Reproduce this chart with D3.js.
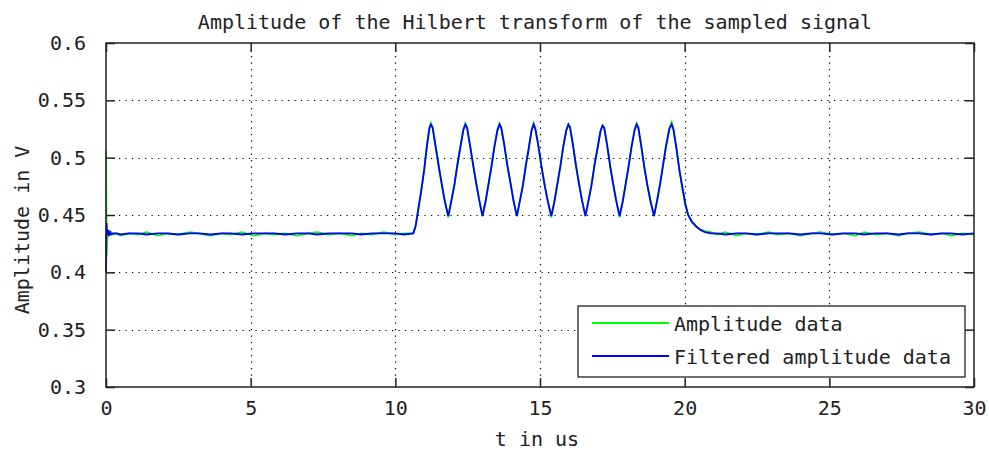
<!DOCTYPE html>
<html>
<head>
<meta charset="utf-8">
<script src="https://cdn.jsdelivr.net/npm/d3@7"></script>
<style>
  body { margin: 0; background: #fff; }
  text { font-family: "DejaVu Sans Mono", monospace; fill: #222; }
</style>
</head>
<body>
<div id="chart"></div>
<script>
var titleText = "Amplitude of the Hilbert transform of the sampled signal"
var xLabel = "t in us"
var yLabel = "Amplitude in V"
var seriesNames = ["Amplitude data", "Filtered amplitude data"]
var seriesColors = ["#00ff00", "#0000ff"]

var xTicks = [0, 5, 10, 15, 20, 25, 30]
var yTicks = [0.3, 0.35, 0.4, 0.45, 0.5, 0.55, 0.6]
var yTickLabels = ["0.3", "0.35", "0.4", "0.45", "0.5", "0.55", "0.6"]

/* time axis shared by both series (us) */
var timeUs = [
  0, 0.02, 0.04, 0.07, 0.1, 0.14, 0.18, 0.25, 0.35, 0.5, 0.8, 1.1, 1.4, 1.8, 2.1, 2.5, 2.9, 3.2, 3.6, 4.0,
  4.3, 4.7, 5.1, 5.5, 5.8, 6.2, 6.6, 7.0, 7.3, 7.7, 8.1, 8.5, 8.8, 9.2, 9.6, 10.0, 10.3, 10.62,
  10.7, 10.8, 10.9, 11.0, 11.1, 11.18, 11.23, 11.29, 11.39, 11.51, 11.61, 11.71, 11.83,
  11.94, 12.04, 12.14, 12.24, 12.35, 12.42, 12.48, 12.58, 12.7, 12.8, 12.9, 13.01,
  13.12, 13.22, 13.32, 13.42, 13.53, 13.6, 13.66, 13.76, 13.88, 13.98, 14.08, 14.2,
  14.31, 14.41, 14.51, 14.61, 14.71, 14.78, 14.84, 14.94, 15.06, 15.16, 15.27, 15.39,
  15.5, 15.6, 15.7, 15.8, 15.91, 15.98, 16.04, 16.14, 16.25, 16.35, 16.45, 16.57,
  16.68, 16.78, 16.88, 16.98, 17.09, 17.16, 17.22, 17.32, 17.43, 17.53, 17.63, 17.75,
  17.86, 17.96, 18.06, 18.16, 18.27, 18.34, 18.4, 18.5, 18.61, 18.71, 18.82, 18.94,
  19.05, 19.15, 19.25, 19.35, 19.47, 19.55, 19.61, 19.71, 19.82, 19.92, 20.02, 20.12,
  20.25, 20.4, 20.55, 20.7, 20.9, 21.1, 21.4, 21.8, 22.1, 22.5, 22.9, 23.2, 23.6, 24.0, 24.4, 24.7,
  25.1, 25.5, 25.9, 26.2, 26.6, 27.0, 27.4, 27.7, 28.1, 28.5, 28.9, 29.2, 29.6, 30.0
]

var amplitudeData = [
  0.506, 0.414, 0.438, 0.431, 0.436, 0.433, 0.435, 0.433, 0.434, 0.432, 0.434, 0.433, 0.435, 0.432, 0.434, 0.433, 0.435, 0.434, 0.432, 0.434,
  0.433, 0.435, 0.432, 0.434, 0.433, 0.434, 0.432, 0.434, 0.435, 0.433, 0.434, 0.432, 0.434, 0.433, 0.435, 0.433, 0.434, 0.434,
  0.441, 0.456, 0.472, 0.490, 0.512, 0.526, 0.530, 0.526, 0.510, 0.491, 0.476, 0.462, 0.448,
  0.463, 0.476, 0.493, 0.508, 0.525, 0.530, 0.526, 0.511, 0.492, 0.477, 0.463, 0.449,
  0.462, 0.477, 0.492, 0.509, 0.525, 0.530, 0.526, 0.512, 0.492, 0.478, 0.463, 0.449,
  0.463, 0.476, 0.493, 0.508, 0.524, 0.530, 0.525, 0.511, 0.491, 0.476, 0.462, 0.448,
  0.462, 0.477, 0.492, 0.509, 0.524, 0.529, 0.527, 0.511, 0.492, 0.477, 0.463, 0.449,
  0.463, 0.476, 0.493, 0.507, 0.523, 0.528, 0.526, 0.511, 0.492, 0.477, 0.463, 0.448,
  0.462, 0.477, 0.492, 0.509, 0.525, 0.530, 0.526, 0.510, 0.491, 0.476, 0.462, 0.449,
  0.463, 0.477, 0.493, 0.510, 0.526, 0.531, 0.525, 0.509, 0.489, 0.474, 0.459, 0.450,
  0.444, 0.440, 0.437, 0.436, 0.435, 0.433, 0.435, 0.432, 0.434, 0.433, 0.435, 0.433, 0.434, 0.432, 0.434, 0.435,
  0.433, 0.434, 0.432, 0.435, 0.433, 0.434, 0.432, 0.434, 0.435, 0.433, 0.434, 0.432, 0.434, 0.433
]

var filteredData = [
  0.400, 0.443, 0.433, 0.437, 0.432, 0.435, 0.433, 0.434, 0.434, 0.433, 0.434, 0.434, 0.433, 0.434, 0.434, 0.433, 0.434, 0.434, 0.433, 0.434,
  0.434, 0.433, 0.434, 0.434, 0.434, 0.433, 0.434, 0.434, 0.433, 0.434, 0.434, 0.434, 0.433, 0.434, 0.434, 0.434, 0.433, 0.434,
  0.440, 0.456, 0.472, 0.490, 0.512, 0.526, 0.529, 0.526, 0.510, 0.491, 0.476, 0.462, 0.449,
  0.463, 0.476, 0.493, 0.508, 0.524, 0.529, 0.526, 0.511, 0.492, 0.477, 0.463, 0.449,
  0.462, 0.477, 0.492, 0.509, 0.524, 0.529, 0.526, 0.512, 0.492, 0.478, 0.463, 0.449,
  0.463, 0.476, 0.493, 0.508, 0.524, 0.529, 0.525, 0.511, 0.491, 0.476, 0.462, 0.449,
  0.462, 0.477, 0.492, 0.509, 0.524, 0.529, 0.526, 0.511, 0.492, 0.477, 0.463, 0.449,
  0.463, 0.476, 0.493, 0.507, 0.523, 0.528, 0.526, 0.511, 0.492, 0.477, 0.463, 0.449,
  0.462, 0.477, 0.492, 0.509, 0.524, 0.529, 0.526, 0.510, 0.491, 0.476, 0.462, 0.449,
  0.463, 0.477, 0.493, 0.509, 0.525, 0.529, 0.525, 0.509, 0.489, 0.474, 0.460, 0.450,
  0.444, 0.440, 0.437, 0.435, 0.434, 0.434, 0.433, 0.434, 0.434, 0.433, 0.434, 0.434, 0.434, 0.433, 0.434, 0.434,
  0.433, 0.434, 0.434, 0.433, 0.434, 0.434, 0.433, 0.434, 0.434, 0.433, 0.434, 0.434, 0.433, 0.434
]

var margin = {top: 43, right: 15, bottom: 65, left: 106},
    width = 989 - margin.left - margin.right,
    height = 452 - margin.top - margin.bottom;

var tickLen = 9

var svg = d3.select("#chart").append("svg")
    .attr("width", 989)
    .attr("height", 452)

svg.append("rect").attr("width", 989).attr("height", 452).attr("fill", "#fff")

var g = svg.append("g")
    .attr("transform", "translate(" + margin.left + "," + margin.top + ")");

var x = d3.scaleLinear().domain([0, 30]).range([0, width])
var y = d3.scaleLinear().domain([0.3, 0.6]).range([height, 0])

/* dotted grid */
g.append("g").selectAll("line")
    .data(xTicks.slice(1, -1))
    .enter().append("line")
    .attr("x1", function(d) { return Math.round(x(d)) + 0.5 })
    .attr("x2", function(d) { return Math.round(x(d)) + 0.5 })
    .attr("y1", 0).attr("y2", height)
    .attr("stroke", "#000").attr("stroke-width", 1.2)
    .attr("stroke-dasharray", "1.2,5.3")

g.append("g").selectAll("line")
    .data(yTicks.slice(1, -1))
    .enter().append("line")
    .attr("y1", function(d) { return Math.round(y(d)) + 0.5 })
    .attr("y2", function(d) { return Math.round(y(d)) + 0.5 })
    .attr("x1", 0).attr("x2", width)
    .attr("stroke", "#000").attr("stroke-width", 1.2)
    .attr("stroke-dasharray", "1.2,5.3")

/* data lines */
var rows = timeUs.map(function(t, i) { return {t: t, a: amplitudeData[i], f: filteredData[i]} })

var lineA = d3.line().x(function(d) { return x(d.t) }).y(function(d) { return y(d.a) })
var lineF = d3.line().x(function(d) { return x(d.t) }).y(function(d) { return y(d.f) })

g.append("path").datum(rows)
    .attr("d", lineA)
    .attr("fill", "none")
    .attr("stroke", seriesColors[0])
    .attr("stroke-width", 1.8)

g.append("path").datum(rows)
    .attr("d", lineF)
    .attr("fill", "none")
    .attr("stroke", seriesColors[1])
    .attr("stroke-width", 1.8)

/* axes: ticks inward on all four sides */
var xAxisB = d3.axisBottom(x).tickValues(xTicks).tickSizeInner(-tickLen).tickSizeOuter(0).tickPadding(14)
var xAxisT = d3.axisTop(x).tickValues(xTicks).tickSizeInner(-tickLen).tickSizeOuter(0).tickFormat("")
var yAxisL = d3.axisLeft(y).tickValues(yTicks).tickSizeInner(-tickLen).tickSizeOuter(0).tickPadding(20)
    .tickFormat(function(d, i) { return yTickLabels[i] })
var yAxisR = d3.axisRight(y).tickValues(yTicks).tickSizeInner(-tickLen).tickSizeOuter(0).tickFormat("")

function styleAxis(sel) {
  sel.select(".domain").remove()
  sel.selectAll("line").attr("stroke", "#222").attr("stroke-width", 1.5)
  sel.selectAll("text").style("font-family", "DejaVu Sans Mono").style("font-size", "20px").attr("fill", "#222")
}

g.append("g").attr("transform", "translate(0," + height + ")").call(xAxisB).call(styleAxis)
g.append("g").call(xAxisT).call(styleAxis)
g.append("g").call(yAxisL).call(styleAxis)
g.append("g").attr("transform", "translate(" + width + ",0)").call(yAxisR).call(styleAxis)

/* frame */
g.append("rect")
    .attr("x", 0).attr("y", 0)
    .attr("width", width).attr("height", height)
    .attr("fill", "none")
    .attr("stroke", "#222")
    .attr("stroke-width", 1.5)

/* legend */
var legend = g.append("g").attr("transform", "translate(" + (578 - margin.left) + "," + (306 - margin.top) + ")")
legend.append("rect")
    .attr("width", 387).attr("height", 71)
    .attr("fill", "#fff").attr("stroke", "#222").attr("stroke-width", 1.3)

seriesNames.forEach(function(name, i) {
  var ly = 17 + i * 33
  legend.append("line")
      .attr("x1", 14).attr("x2", 91)
      .attr("y1", ly).attr("y2", ly)
      .attr("stroke", seriesColors[i]).attr("stroke-width", 1.8)
  legend.append("text")
      .attr("x", 96).attr("y", ly + 8)
      .style("font-size", "20px")
      .text(name)
})

/* labels */
svg.append("text")
    .attr("x", 535).attr("y", 29)
    .attr("text-anchor", "middle")
    .style("font-size", "20px")
    .text(titleText)

svg.append("text")
    .attr("x", 537).attr("y", 446)
    .attr("text-anchor", "middle")
    .style("font-size", "20px")
    .text(xLabel)

svg.append("text")
    .attr("transform", "translate(29,230) rotate(-90)")
    .attr("text-anchor", "middle")
    .style("font-size", "20px")
    .text(yLabel)
</script>
</body>
</html>
